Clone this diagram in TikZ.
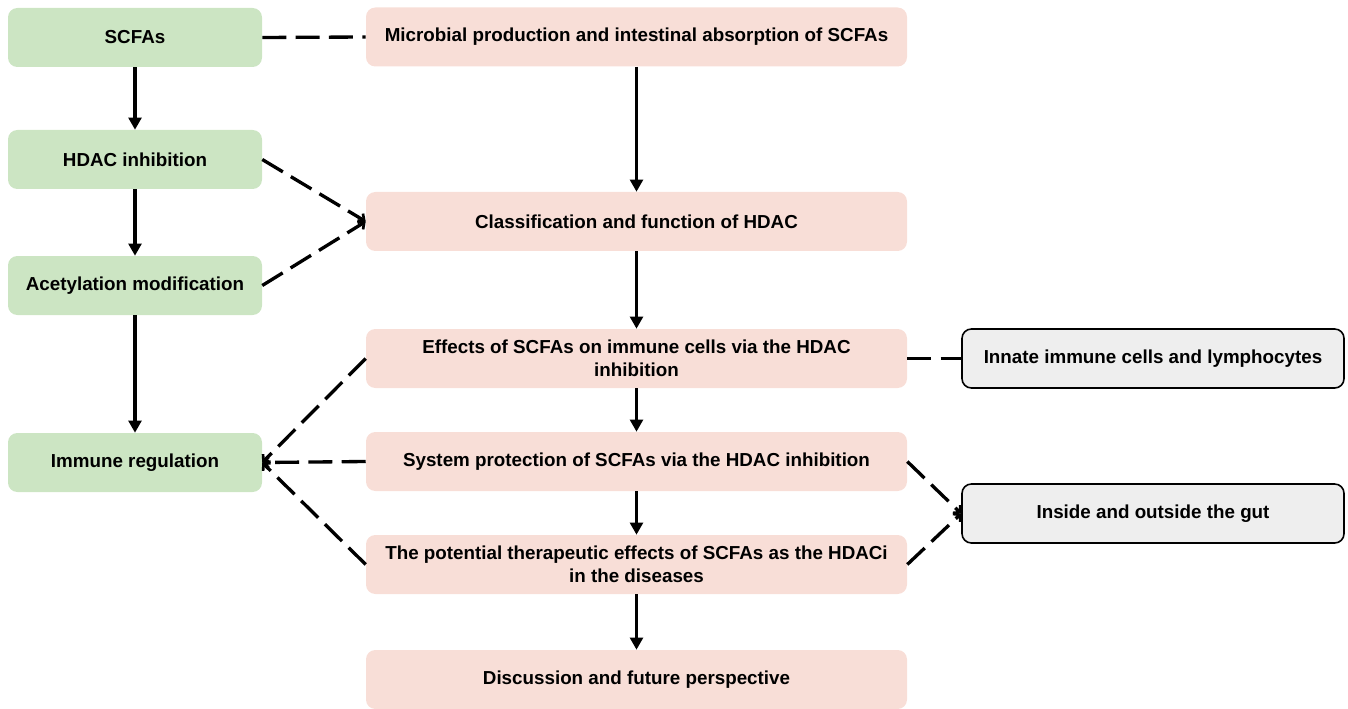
\documentclass[tikz,border=0pt]{standalone}
\usepackage{fontspec}
\setmainfont{Liberation Sans}
\usetikzlibrary{arrows.meta}
\definecolor{gbox}{RGB}{204,229,195}
\definecolor{pbox}{RGB}{248,222,215}
\definecolor{xbox}{RGB}{238,238,238}
\begin{document}
\begin{tikzpicture}[x=0.75pt,y=-0.75pt,
  every node/.style={font=\fontsize{14.1pt}{17.3pt}\selectfont\bfseries, align=center, inner sep=0pt},
  greenbox/.style={fill=gbox, rounded corners=7pt, minimum width=190.5pt, minimum height=44.25pt},
  pinkbox/.style={fill=pbox, rounded corners=7pt, minimum width=405.75pt, minimum height=44.25pt},
  graybox/.style={fill=xbox, draw=black, line width=1.2pt, rounded corners=7pt, minimum width=286.5pt, minimum height=44.25pt},
  solidarrow/.style={line width=2.6pt, -{Triangle[length=9pt,width=9.5pt]}},
  dashline/.style={line width=2.5pt, dash pattern=on 18pt off 7pt},
  dasharrow/.style={dashline, -{Straight Barb[length=3.5pt,width=8pt,line width=2pt]}}
]
\useasboundingbox (0,0) rectangle (1348,709);
\node[greenbox] (scfa) at (135,37.5) {SCFAs};
\node[greenbox] (hdac) at (135,159.5) {HDAC inhibition};
\node[greenbox] (acet) at (135,285.5) {Acetylation modification};
\node[greenbox] (immr) at (135,462.5) {Immune regulation};
\node[pinkbox] (micr) at (636.5,37) {Microbial production and intestinal absorption of SCFAs};
\node[pinkbox] (clas) at (636.5,221.5) {Classification and function of HDAC};
\node[pinkbox] (effe) at (636.5,358.5) {Effects of SCFAs on immune cells via the HDAC\\inhibition};
\node[pinkbox] (syst) at (636.5,461.5) {System protection of SCFAs via the HDAC inhibition};
\node[pinkbox] (pote) at (636.5,564.5) {The potential therapeutic effects of SCFAs as the HDACi\\in the diseases};
\node[pinkbox] (disc) at (636.5,679.5) {Discussion and future perspective};
\node[graybox] (inna) at (1153,358.5) {Innate immune cells and lymphocytes};
\node[graybox] (insi) at (1153,513.5) {Inside and outside the gut};
% solid arrows
\draw[solidarrow] (scfa) -- (hdac);
\draw[solidarrow] (hdac) -- (acet);
\draw[solidarrow] (acet) -- (immr);
\draw[solidarrow] (micr) -- (clas);
\draw[solidarrow] (clas) -- (effe);
\draw[solidarrow] (effe) -- (syst);
\draw[solidarrow] (syst) -- (pote);
\draw[solidarrow] (pote) -- (disc);
% dashed connectors
\draw[dashline] (scfa.east) -- (micr.west);
\draw[dasharrow] (hdac.east) -- (clas.west);
\draw[dasharrow] (acet.east) -- (clas.west);
\draw[dasharrow] (effe.west) -- (immr.east);
\draw[dasharrow] (syst.west) -- (immr.east);
\draw[dasharrow] (pote.west) -- (immr.east);
\draw[dashline] (effe.east) -- (inna.west);
\draw[dasharrow] (syst.east) -- (insi.west);
\draw[dasharrow] (pote.east) -- (insi.west);
\end{tikzpicture}
\end{document}
